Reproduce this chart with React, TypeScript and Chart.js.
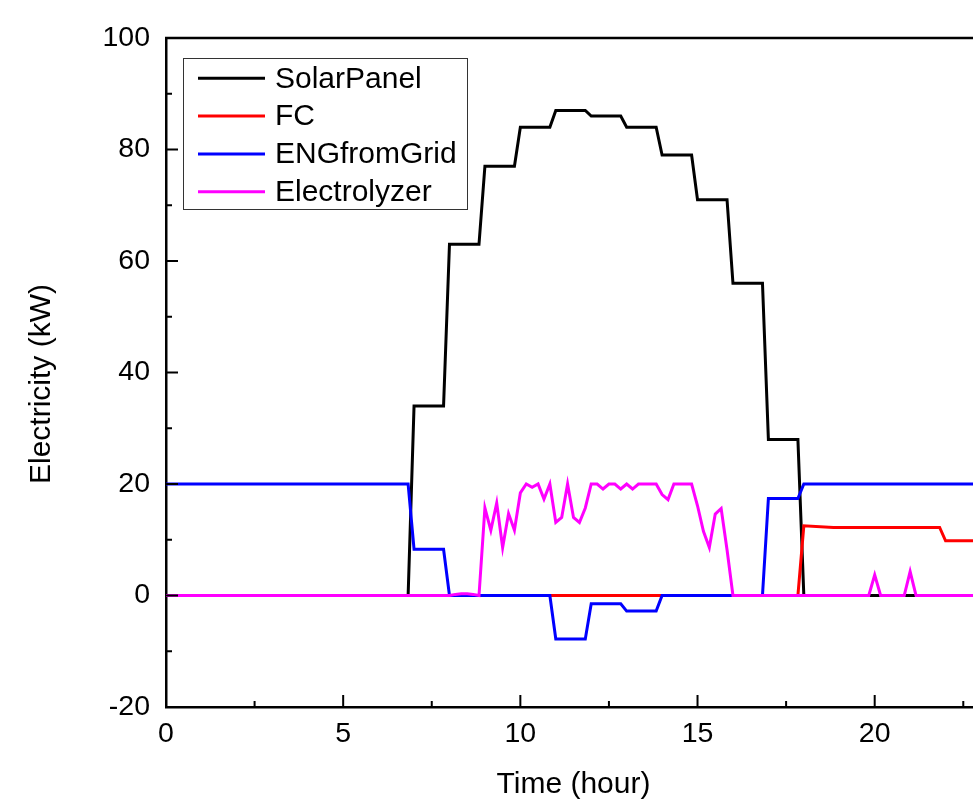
import React, { useEffect, useRef } from 'react';
import { Chart, registerables } from 'chart.js';

Chart.register(...registerables);

const FONT = '"Liberation Sans", Arial, Helvetica, sans-serif';

const seriesNames = ['SolarPanel', 'FC', 'ENGfromGrid', 'Electrolyzer'];
const seriesColors = ['#000000', '#ff0000', '#0000ff', '#ff00ff'];

const solarTime = [0, 6.833, 7.0, 7.833, 8.0, 8.833, 9.0, 9.833, 10.0, 10.833, 11.0, 11.833, 12.0, 12.833, 13.0, 13.833, 14.0, 14.833, 15.0, 15.833, 16.0, 16.833, 17.0, 17.833, 18.0, 23];
const solarValue = [0, 0, 34, 34, 63, 63, 77, 77, 84, 84, 87, 87, 86, 86, 84, 84, 79, 79, 71, 71, 56, 56, 28, 28, 0, 0];

const fcTime = [0, 17.833, 18.0, 18.833, 21.833, 22.0, 23];
const fcValue = [0, 0, 12.5, 12.2, 12.2, 9.8, 9.8];

const gridTime = [0, 6.833, 7.0, 7.833, 8.0, 10.833, 11.0, 11.833, 12.0, 12.833, 13.0, 13.833, 14.0, 16.833, 17.0, 17.833, 18.0, 23];
const gridValue = [20, 20, 8.3, 8.3, 0, 0, -7.8, -7.8, -1.5, -1.5, -2.8, -2.8, 0, 0, 17.4, 17.4, 20, 20];

const elecTime = [0, 8.0, 8.167, 8.333, 8.5, 8.667, 8.833, 9.0, 9.167, 9.333, 9.5, 9.667, 9.833, 10.0, 10.167, 10.333, 10.5, 10.667, 10.833, 11.0, 11.167, 11.333, 11.5, 11.667, 11.833, 12.0, 12.167, 12.333, 12.5, 12.667, 12.833, 13.0, 13.167, 13.333, 13.833, 14.0, 14.167, 14.333, 14.833, 15.0, 15.167, 15.333, 15.5, 15.667, 15.833, 16.0, 19.833, 20.0, 20.167, 20.833, 21.0, 21.167, 23];
const elecValue = [0, 0, 0.2, 0.3, 0.3, 0.2, 0, 15.7, 11.7, 16.6, 8.6, 14.7, 11.7, 18.4, 20, 19.4, 20, 17.3, 20, 13.1, 14, 20, 14, 13.1, 15.7, 20, 20, 19.1, 20, 20, 19.1, 20, 19.1, 20, 20, 18.1, 17.2, 20, 20, 16.1, 11.5, 8.6, 14.6, 15.6, 8.2, 0, 0, 3.7, 0, 0, 4.3, 0, 0];

const xTickValues = [0, 5, 10, 15, 20];
const xMinorTicks = [2.5, 7.5, 12.5, 17.5, 22.5];
const yTickValues = [-20, 0, 20, 40, 60, 80, 100];
const yMinorTicks = [-10, 10, 30, 50, 70, 90];
const xTitle = 'Time (hour)';
const yTitle = 'Electricity (kW)';

function toPoints(t: number[], v: number[]) {
  return t.map((x, i) => ({ x, y: v[i] }));
}

const decorPlugin = {
  id: 'decor',
  afterDraw(chart: any) {
    const { ctx, chartArea: a, scales } = chart;
    const x = scales.x;
    const y = scales.y;
    ctx.save();
    ctx.strokeStyle = '#000';
    ctx.lineWidth = 2.5;
    ctx.beginPath();
    ctx.moveTo(a.left - 1, a.top);
    ctx.lineTo(a.right, a.top);
    ctx.lineTo(a.right, a.bottom);
    ctx.stroke();
    ctx.lineWidth = 2;
    ctx.beginPath();
    for (const v of xTickValues) {
      const px = x.getPixelForValue(v);
      ctx.moveTo(px, a.bottom);
      ctx.lineTo(px, a.bottom - 12);
    }
    for (const v of xMinorTicks) {
      const px = x.getPixelForValue(v);
      ctx.moveTo(px, a.bottom);
      ctx.lineTo(px, a.bottom - 6);
    }
    for (const v of yTickValues) {
      const py = y.getPixelForValue(v);
      ctx.moveTo(a.left, py);
      ctx.lineTo(a.left + 12, py);
    }
    for (const v of yMinorTicks) {
      const py = y.getPixelForValue(v);
      ctx.moveTo(a.left, py);
      ctx.lineTo(a.left + 6, py);
    }
    ctx.stroke();

    // y axis title
    ctx.fillStyle = '#000';
    ctx.font = `30px ${FONT}`;
    ctx.textAlign = 'center';
    ctx.textBaseline = 'middle';
    ctx.save();
    ctx.translate(42, 384);
    ctx.rotate(-Math.PI / 2);
    ctx.fillText(yTitle, 0, 0);
    ctx.restore();

    // legend box
    const bx = 183, by = 58, bw = 284, bh = 151;
    ctx.fillStyle = '#fff';
    ctx.fillRect(bx, by, bw, bh);
    ctx.strokeStyle = '#333';
    ctx.lineWidth = 1;
    ctx.strokeRect(bx + 0.5, by + 0.5, bw, bh);
    ctx.font = `30px ${FONT}`;
    ctx.textBaseline = 'middle';
    ctx.textAlign = 'left';
    seriesNames.forEach((name, i) => {
      const ry = 78.3 + i * 37.8;
      ctx.strokeStyle = seriesColors[i];
      ctx.lineWidth = 3;
      ctx.beginPath();
      ctx.moveTo(198, ry);
      ctx.lineTo(265, ry);
      ctx.stroke();
      ctx.fillStyle = '#000';
      ctx.fillText(name, 275, ry + 1);
    });
    ctx.restore();
  },
};

export default function App() {
  const ref = useRef<HTMLCanvasElement | null>(null);

  useEffect(() => {
    if (!ref.current) return;
    const series = [
      [solarTime, solarValue],
      [fcTime, fcValue],
      [gridTime, gridValue],
      [elecTime, elecValue],
    ];
    const chart = new Chart(ref.current, {
      type: 'line',
      data: {
        datasets: series.map(([t, v], i) => ({
          label: seriesNames[i],
          data: toPoints(t as number[], v as number[]),
          borderColor: seriesColors[i],
          backgroundColor: seriesColors[i],
          borderWidth: 3,
          pointRadius: 0,
          tension: 0,
          fill: false,
          order: 3 - i,
        })),
      },
      options: {
        responsive: false,
        animation: false,
        devicePixelRatio: 1,
        layout: { padding: { left: 0, top: 38, right: 9, bottom: 0 } },
        plugins: { legend: { display: false }, tooltip: { enabled: false } },
        scales: {
          x: {
            type: 'linear',
            min: 0,
            max: 23,
            afterFit: (s: any) => { s.height = 96; },
            afterBuildTicks: (s: any) => { s.ticks = xTickValues.map((v) => ({ value: v })); },
            grid: { display: false, drawTicks: false },
            border: { display: true, color: '#000', width: 2.5 },
            ticks: { color: '#000', font: { family: FONT, size: 28.5 }, padding: 10, maxRotation: 0, autoSkip: false },
            title: { display: true, text: xTitle, color: '#000', font: { family: FONT, size: 30 }, padding: { top: 0, bottom: 0 } },
          },
          y: {
            type: 'linear',
            min: -20,
            max: 100,
            afterFit: (s: any) => { s.width = 166; },
            afterBuildTicks: (s: any) => { s.ticks = yTickValues.map((v) => ({ value: v })); },
            grid: { display: false, drawTicks: false },
            border: { display: true, color: '#000', width: 2.5 },
            ticks: { color: '#000', font: { family: FONT, size: 28.5 }, padding: 16, autoSkip: false },
            title: { display: false, text: yTitle },
          },
        },
      },
      plugins: [decorPlugin],
    } as any);
    return () => chart.destroy();
  }, []);

  return (
    <div style={{ position: 'absolute', left: 0, top: 0, width: 973, height: 803, overflow: 'hidden', background: '#fff' }}>
      <canvas ref={ref} width={990} height={803} style={{ display: 'block', width: 990, height: 803 }} />
    </div>
  );
}
